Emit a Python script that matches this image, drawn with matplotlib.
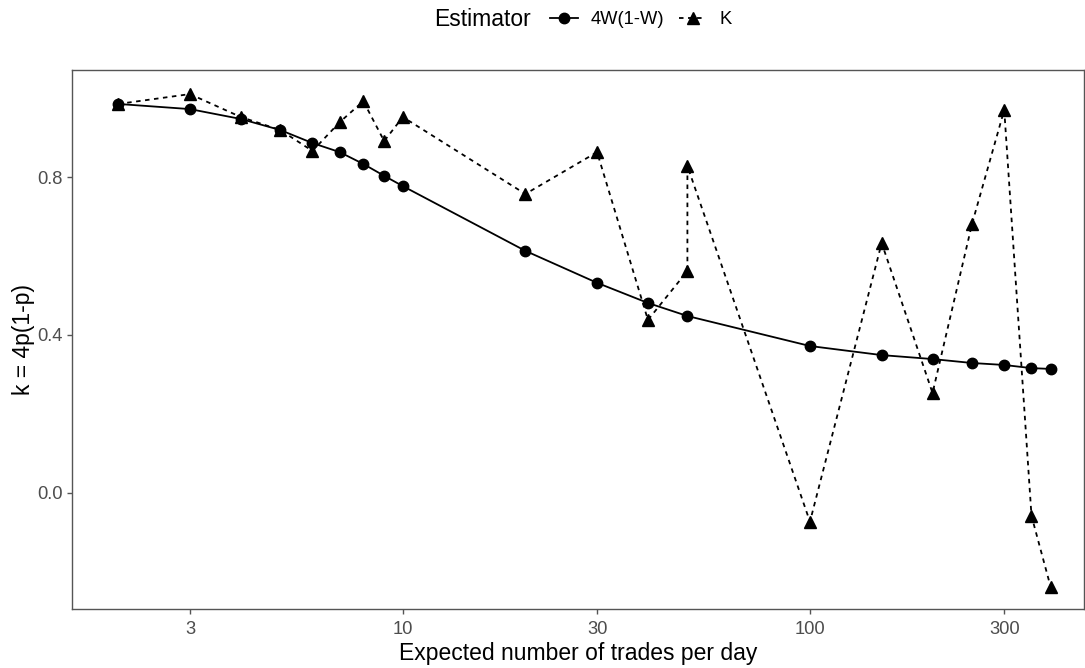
import matplotlib
matplotlib.use("Agg")
import matplotlib.pyplot as plt
from matplotlib.ticker import FixedLocator, NullLocator
from matplotlib.offsetbox import HPacker

plt.rcParams['font.family'] = ['Liberation Sans', 'DejaVu Sans']

x_w = [2, 3, 4, 5, 6, 7, 8, 9, 10, 20, 30, 40, 50, 100, 150, 200, 250, 300, 350, 390]
y_w = [0.985, 0.972, 0.947, 0.919, 0.886, 0.863, 0.833, 0.803, 0.777, 0.613,
       0.532, 0.481, 0.448, 0.372, 0.349, 0.339, 0.329, 0.324, 0.316, 0.314]

x_k = [2, 3, 4, 5, 6, 7, 8, 9, 10, 20, 30, 40, 50, 50, 100, 150, 200, 250, 300, 350, 390]
y_k = [0.985, 1.010, 0.952, 0.919, 0.866, 0.939, 0.992, 0.891, 0.952, 0.757,
       0.863, 0.438, 0.562, 0.828, -0.073, 0.633, 0.253, 0.681, 0.970, -0.058, -0.238]

x_ticks = [3, 10, 30, 100, 300]
x_ticklabels = ["3", "10", "30", "100", "300"]
y_ticks = [0.0, 0.4, 0.8]
y_ticklabels = ["0.0", "0.4", "0.8"]

fig = plt.figure(figsize=(10.85, 6.68), dpi=100)
ax = fig.add_axes([72/1085, 1-609/668, (1084-72)/1085, (609-70)/668])

ax.plot(x_w, y_w, color='black', linestyle='-', linewidth=1.3,
        marker='o', markersize=7.5, label='4W(1-W)')
ax.plot(x_k, y_k, color='black', linestyle=(0, (2.5, 2.5)), linewidth=1.3,
        marker='^', markersize=8, label='K')

ax.set_xscale('log')
ax.set_xlim(1.54, 471)
ax.set_ylim(-0.294, 1.071)
ax.xaxis.set_major_locator(FixedLocator(x_ticks))
ax.xaxis.set_minor_locator(NullLocator())
ax.set_xticklabels(x_ticklabels)
ax.set_yticks(y_ticks)
ax.set_yticklabels(y_ticklabels)

for s in ax.spines.values():
    s.set_color('#555555')
    s.set_linewidth(1.0)
ax.tick_params(axis='both', direction='out', length=3.5, width=1, color='#555555',
               labelcolor='#4D4D4D', labelsize=13.2, pad=3)
ax.tick_params(axis='x', pad=5)

ax.set_xlabel('Expected number of trades per day', fontsize=16.5, color='black', labelpad=3)
ax.set_ylabel('k = 4p(1-p)', fontsize=16.5, color='black', labelpad=2)

leg = fig.legend(loc='center', bbox_to_anchor=(0.537, 1-20/668), ncol=2, frameon=False,
                 title='Estimator', fontsize=13.2, title_fontsize=16.5,
                 handlelength=1.5, columnspacing=0.8, handletextpad=0.7)
title_box = leg._legend_title_box
handle_box = leg._legend_handle_box
leg._legend_box._children = [HPacker(pad=0, sep=14, children=[title_box, handle_box], align='center')]

fig.savefig('out.png', dpi=100)
